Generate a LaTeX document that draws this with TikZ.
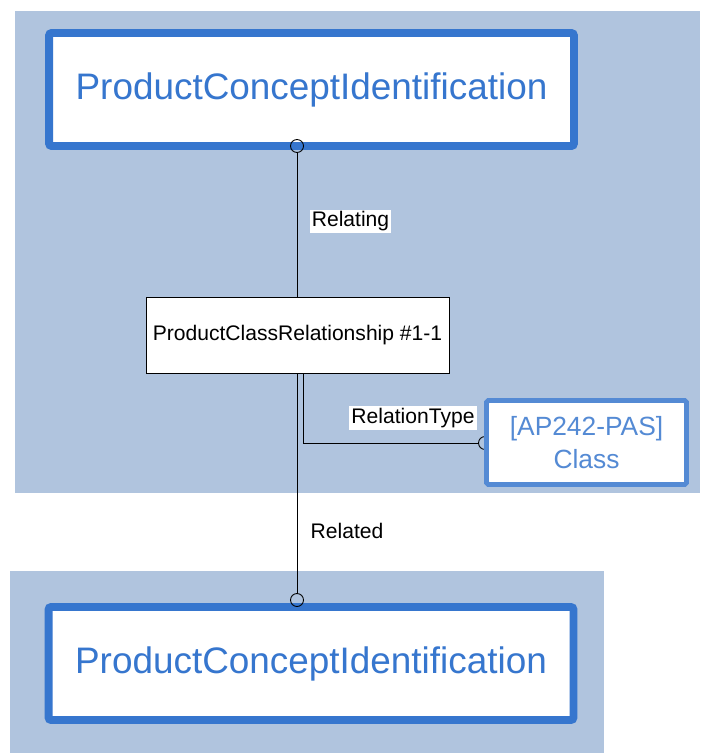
\documentclass[tikz,border=0pt]{standalone}
\usepackage{fontspec}
\setmainfont{Liberation Sans}
\usetikzlibrary{positioning}
\definecolor{azul}{RGB}{54,118,206}
\definecolor{azulclaro}{RGB}{84,138,212}
\definecolor{fondo}{RGB}{176,196,222}
\tikzset{
  entidad/.style={draw=azul, line width=4.5pt, rounded corners=1.5pt, fill=white, text=azul, minimum width=10.5cm, minimum height=2.26cm, font=\fontsize{21}{25}\selectfont},
  relacion/.style={draw, line width=0.5pt, fill=white, minimum width=6.06cm, minimum height=1.52cm, font=\fontsize{12}{14}\selectfont},
  clase/.style={draw=azulclaro, line width=2.8pt, rounded corners=1pt, fill=white, text=azulclaro, align=center, minimum width=4cm, minimum height=1.68cm, font=\fontsize{15}{18.5}\selectfont},
  etiqueta/.style={fill=white, inner sep=1.2pt, font=\fontsize{12}{14}\selectfont},
  extremo/.style={circle, draw, line width=0.5pt, minimum size=0.26cm, inner sep=0pt},
  conector/.style={line width=0.5pt},
}

\begin{document}
\begin{tikzpicture}[x=0.02cm, y=-0.02cm]
          \useasboundingbox (0,0) rectangle (700,753);
          \fill[fondo] (15,11) rectangle (700,493);
          \fill[fondo] (10,571) rectangle (604,753);
          % extremo tapado por la clase
          \node[extremo] (tipo) at (485,443) {};
          \node[entidad] (pci1) at (311.5,89.5) {ProductConceptIdentification};
          \node[entidad] (pci2) at (311,663.5) {ProductConceptIdentification};
          \node[relacion] (pcr) at (297.5,335) {ProductClassRelationship \#1-1};
          \node[clase] (ap) at (586.5,442.5) {[AP242-PAS]\\Class};
          \node[extremo] (ext1) at (297,146) {};
          \node[extremo] (ext2) at (297,600) {};
          \draw[conector] (ext1.south) -- (ext1.south |- pcr.north);
          \draw[conector] (ext2.north |- pcr.south) -- (ext2.north);
          \draw[conector] ([xshift=0.12cm]pcr.south) |- (tipo.west);
          \node[etiqueta] (lrelating) at (350.5,221.5) {Relating};
          \node[etiqueta] (lrelated) at (347,531) {Related};
          \node[etiqueta] (ltipo) at (413,418) {RelationType};
        \end{tikzpicture}
\end{document}
